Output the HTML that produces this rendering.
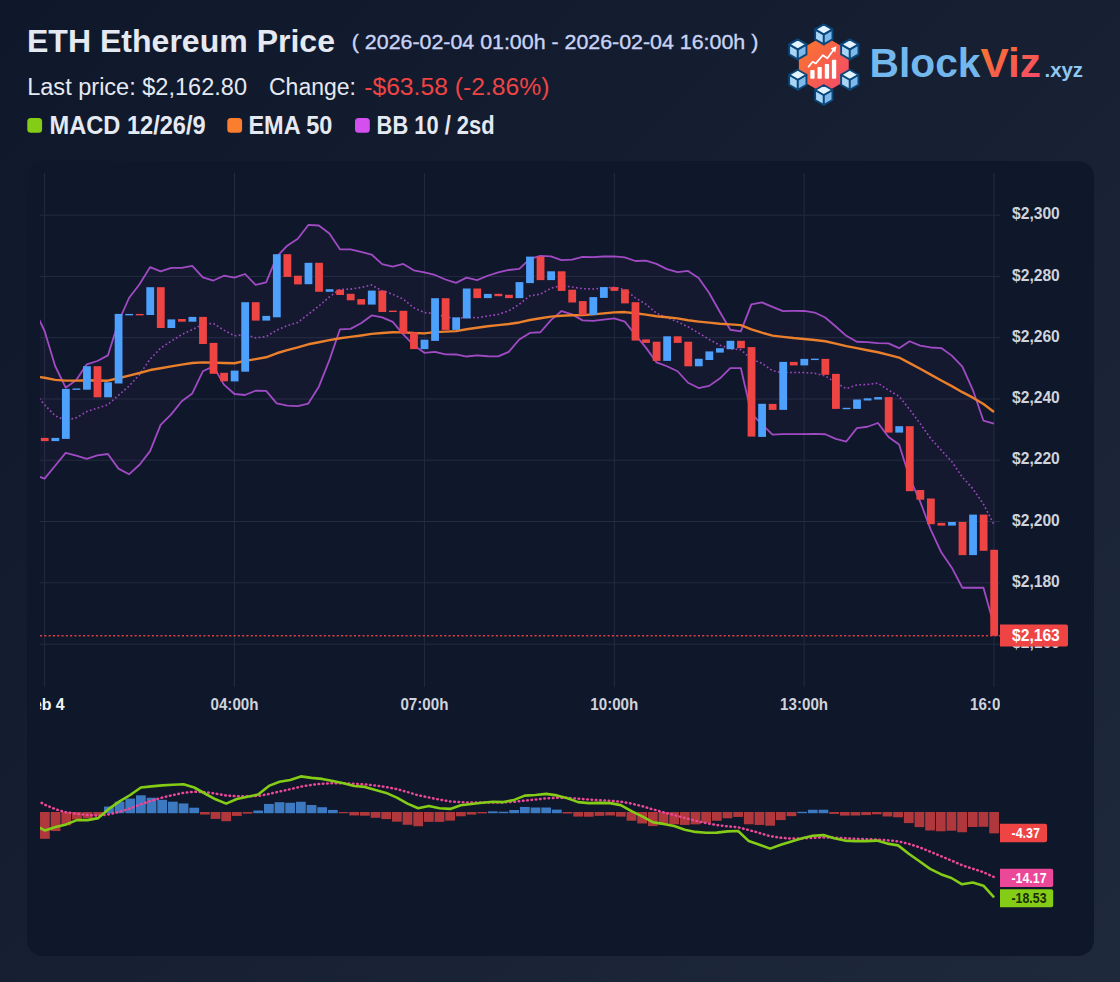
<!DOCTYPE html>
<html lang="en"><head><meta charset="utf-8"><title>ETH Ethereum Price</title>
<style>
html,body{margin:0;padding:0;}
body{width:1120px;height:982px;overflow:hidden;background:linear-gradient(135deg,#0f172a 0%,#1e293b 100%);font-family:"Liberation Sans",sans-serif;position:relative;}
.panel{position:absolute;left:27px;top:160.5px;width:1067px;height:795.5px;background:#0f172a;border-radius:16px;}
svg{position:absolute;left:0;top:0;}
text{font-family:"Liberation Sans",sans-serif;}
</style></head><body>
<div class="panel"></div>
<svg width="1120" height="982" viewBox="0 0 1120 982" style="opacity:0.999">
<defs>
<linearGradient id="hexg" x1="0" y1="0" x2="1" y2="1"><stop offset="0" stop-color="#f97a28"/><stop offset="1" stop-color="#f4456f"/></linearGradient>
<linearGradient id="vizg" x1="0" y1="0" x2="1" y2="1"><stop offset="0" stop-color="#f97a28"/><stop offset="1" stop-color="#f4456f"/></linearGradient>
<clipPath id="cp"><rect x="40" y="165" width="960" height="530"/></clipPath>
<clipPath id="cpx"><rect x="40" y="690" width="960" height="40"/></clipPath>
<clipPath id="cpm"><rect x="40" y="740" width="960" height="200"/></clipPath>
</defs>

<g id="header">
<text x="27" y="52.3" font-size="32" font-weight="700" fill="#e5e9f2" textLength="308" lengthAdjust="spacingAndGlyphs">ETH Ethereum Price</text>
<text x="351.8" y="48.6" font-size="20" font-weight="400" fill="#c9d3f5" stroke="#c9d3f5" stroke-width="0.35" textLength="406.5" lengthAdjust="spacingAndGlyphs">( 2026-02-04 01:00h - 2026-02-04 16:00h )</text>
<text x="27.2" y="95.3" font-size="23" fill="#e5e9f2" textLength="219.8" lengthAdjust="spacingAndGlyphs">Last price: $2,162.80</text>
<text x="269" y="95.3" font-size="23" fill="#e5e9f2" textLength="87" lengthAdjust="spacingAndGlyphs">Change:</text>
<text x="364.2" y="95.3" font-size="23" fill="#ef4444" textLength="185.2" lengthAdjust="spacingAndGlyphs">-$63.58 (-2.86%)</text>
<rect x="27.3" y="118" width="14.8" height="14.8" rx="3.5" fill="#84cc16"/>
<text x="49.5" y="133.9" font-size="25" font-weight="700" fill="#e5e9f2" textLength="156.2" lengthAdjust="spacingAndGlyphs">MACD 12/26/9</text>
<rect x="227.3" y="118" width="14.8" height="14.8" rx="3.5" fill="#f97f2f"/>
<text x="248.4" y="133.9" font-size="25" font-weight="700" fill="#e5e9f2" textLength="84" lengthAdjust="spacingAndGlyphs">EMA 50</text>
<rect x="355" y="118" width="14.8" height="14.8" rx="3.5" fill="#d450ee"/>
<text x="376.6" y="133.9" font-size="25" font-weight="700" fill="#e5e9f2" textLength="117.9" lengthAdjust="spacingAndGlyphs">BB 10 / 2sd</text>
</g>
<g id="logo">
<polygon points="823.8,35.8 798.86,50.2 798.86,79 823.8,93.4 848.74,79 848.74,50.2" fill="url(#hexg)"/>
<polygon points="815.14,29.4 815.14,39.4 823.8,44.4 823.8,34.4" fill="#a9d6f7" stroke="#0b477a" stroke-width="1.9" stroke-linejoin="round"/><polygon points="832.46,29.4 823.8,34.4 823.8,44.4 832.46,39.4" fill="#7db9ea" stroke="#0b477a" stroke-width="1.9" stroke-linejoin="round"/><polygon points="823.8,24.4 815.14,29.4 823.8,34.4 832.46,29.4" fill="#e3f3ff" stroke="#0b477a" stroke-width="1.9" stroke-linejoin="round"/>
<polygon points="815.14,90 815.14,100 823.8,105 823.8,95" fill="#a9d6f7" stroke="#0b477a" stroke-width="1.9" stroke-linejoin="round"/><polygon points="832.46,90 823.8,95 823.8,105 832.46,100" fill="#7db9ea" stroke="#0b477a" stroke-width="1.9" stroke-linejoin="round"/><polygon points="823.8,85 815.14,90 823.8,95 832.46,90" fill="#e3f3ff" stroke="#0b477a" stroke-width="1.9" stroke-linejoin="round"/>
<polygon points="789.14,44.4 789.14,54.4 797.8,59.4 797.8,49.4" fill="#a9d6f7" stroke="#0b477a" stroke-width="1.9" stroke-linejoin="round"/><polygon points="806.46,44.4 797.8,49.4 797.8,59.4 806.46,54.4" fill="#7db9ea" stroke="#0b477a" stroke-width="1.9" stroke-linejoin="round"/><polygon points="797.8,39.4 789.14,44.4 797.8,49.4 806.46,44.4" fill="#e3f3ff" stroke="#0b477a" stroke-width="1.9" stroke-linejoin="round"/>
<polygon points="841.14,44.4 841.14,54.4 849.8,59.4 849.8,49.4" fill="#a9d6f7" stroke="#0b477a" stroke-width="1.9" stroke-linejoin="round"/><polygon points="858.46,44.4 849.8,49.4 849.8,59.4 858.46,54.4" fill="#7db9ea" stroke="#0b477a" stroke-width="1.9" stroke-linejoin="round"/><polygon points="849.8,39.4 841.14,44.4 849.8,49.4 858.46,44.4" fill="#e3f3ff" stroke="#0b477a" stroke-width="1.9" stroke-linejoin="round"/>
<polygon points="789.14,74.8 789.14,84.8 797.8,89.8 797.8,79.8" fill="#a9d6f7" stroke="#0b477a" stroke-width="1.9" stroke-linejoin="round"/><polygon points="806.46,74.8 797.8,79.8 797.8,89.8 806.46,84.8" fill="#7db9ea" stroke="#0b477a" stroke-width="1.9" stroke-linejoin="round"/><polygon points="797.8,69.8 789.14,74.8 797.8,79.8 806.46,74.8" fill="#e3f3ff" stroke="#0b477a" stroke-width="1.9" stroke-linejoin="round"/>
<polygon points="841.14,74.8 841.14,84.8 849.8,89.8 849.8,79.8" fill="#a9d6f7" stroke="#0b477a" stroke-width="1.9" stroke-linejoin="round"/><polygon points="858.46,74.8 849.8,79.8 849.8,89.8 858.46,84.8" fill="#7db9ea" stroke="#0b477a" stroke-width="1.9" stroke-linejoin="round"/><polygon points="849.8,69.8 841.14,74.8 849.8,79.8 858.46,74.8" fill="#e3f3ff" stroke="#0b477a" stroke-width="1.9" stroke-linejoin="round"/>
<rect x="810.3" y="70.0" width="4.3" height="8.8" rx="0.8" fill="#fff"/>
<rect x="817.5" y="66.9" width="4.3" height="11.9" rx="0.8" fill="#fff"/>
<rect x="824.8" y="63.9" width="4.3" height="14.9" rx="0.8" fill="#fff"/>
<rect x="831.9" y="59.8" width="4.3" height="19" rx="0.8" fill="#fff"/>
<polyline points="808.6,66.6 812.6,61.8 815.8,63.4 822.8,55.2 827.4,58.3 834,49.2" fill="none" stroke="#fff" stroke-width="1.7" stroke-linecap="round" stroke-linejoin="round"/>
<polygon points="836.4,46.2 830.6,48.4 835.2,52.4" fill="#fff"/>
<text x="869.5" y="77.4" font-size="40" font-weight="700" fill="#72b8ee" textLength="111" lengthAdjust="spacingAndGlyphs">Block</text>
<text x="980.5" y="77.4" font-size="40" font-weight="700" fill="url(#vizg)" textLength="60.5" lengthAdjust="spacingAndGlyphs">Viz</text>
<text x="1044.5" y="77.4" font-size="20" font-weight="700" fill="#8ec8f2" textLength="38.5" lengthAdjust="spacingAndGlyphs">.xyz</text>
</g>
<g id="grid" stroke="#232c41" stroke-width="1" fill="none">
<line x1="44.6" y1="173" x2="44.6" y2="687"/>
<line x1="234.5" y1="173" x2="234.5" y2="687"/>
<line x1="424.4" y1="173" x2="424.4" y2="687"/>
<line x1="614.3" y1="173" x2="614.3" y2="687"/>
<line x1="804.1" y1="173" x2="804.1" y2="687"/>
<line x1="994.0" y1="173" x2="994.0" y2="687"/>
<line x1="40" y1="215.1" x2="1000" y2="215.1"/>
<line x1="40" y1="276.4" x2="1000" y2="276.4"/>
<line x1="40" y1="337.7" x2="1000" y2="337.7"/>
<line x1="40" y1="399.0" x2="1000" y2="399.0"/>
<line x1="40" y1="460.2" x2="1000" y2="460.2"/>
<line x1="40" y1="521.5" x2="1000" y2="521.5"/>
<line x1="40" y1="582.8" x2="1000" y2="582.8"/>
<line x1="40" y1="644.1" x2="1000" y2="644.1"/>
</g>
<g id="yticks" font-size="16" font-weight="700" fill="#cfd3dc">
<text x="1012" y="219.3" textLength="47.8" lengthAdjust="spacingAndGlyphs">$2,300</text>
<text x="1012" y="280.6" textLength="47.8" lengthAdjust="spacingAndGlyphs">$2,280</text>
<text x="1012" y="341.9" textLength="47.8" lengthAdjust="spacingAndGlyphs">$2,260</text>
<text x="1012" y="403.2" textLength="47.8" lengthAdjust="spacingAndGlyphs">$2,240</text>
<text x="1012" y="464.4" textLength="47.8" lengthAdjust="spacingAndGlyphs">$2,220</text>
<text x="1012" y="525.7" textLength="47.8" lengthAdjust="spacingAndGlyphs">$2,200</text>
<text x="1012" y="587" textLength="47.8" lengthAdjust="spacingAndGlyphs">$2,180</text>
<text x="1012" y="648.3" textLength="47.8" lengthAdjust="spacingAndGlyphs">$2,160</text>
</g>
<g id="xticks" font-size="16" font-weight="700" fill="#cfd3dc" clip-path="url(#cpx)">
<text x="23.2" y="709.9" fill="#f1f3f7" textLength="41.5" lengthAdjust="spacingAndGlyphs">Feb 4</text>
<text x="210.5" y="709.9" textLength="48" lengthAdjust="spacingAndGlyphs">04:00h</text>
<text x="400.4" y="709.9" textLength="48" lengthAdjust="spacingAndGlyphs">07:00h</text>
<text x="590.3" y="709.9" textLength="48" lengthAdjust="spacingAndGlyphs">10:00h</text>
<text x="780.1" y="709.9" textLength="48" lengthAdjust="spacingAndGlyphs">13:00h</text>
<text x="970" y="709.9" textLength="48" lengthAdjust="spacingAndGlyphs">16:00h</text>
</g>
<g id="main" clip-path="url(#cp)">
<path d="M34.05,309 L44.6,331 L55.15,366 L65.7,387.7 L76.25,380 L86.8,364.3 L97.34,361 L107.89,355.4 L118.44,322 L128.99,298 L139.54,284.32 L150.09,267.12 L160.64,271.41 L171.19,267.97 L181.74,267.84 L192.29,265.78 L202.83,277.27 L213.38,280.52 L223.93,275.73 L234.48,277.69 L245.03,274 L255.58,284.95 L266.13,282.36 L276.68,256.8 L287.23,245.64 L297.78,238.68 L308.32,224.95 L318.87,225.49 L329.42,233.58 L339.97,249.28 L350.52,249.32 L361.07,251.84 L371.62,254.51 L382.17,264.16 L392.72,266.66 L403.27,263.99 L413.81,270.27 L424.36,272.32 L434.91,274.99 L445.46,279.5 L456.01,282.88 L466.56,277.62 L477.11,280.17 L487.66,275.76 L498.21,272.47 L508.76,269.98 L519.3,268.94 L529.85,258.88 L540.4,255.94 L550.95,256.4 L561.5,260.14 L572.05,259.58 L582.6,256.99 L593.15,257.04 L603.7,256.49 L614.25,256.39 L624.79,257.35 L635.34,260.98 L645.89,260.71 L656.44,263.91 L666.99,269.12 L677.54,272.17 L688.09,270.92 L698.64,277.97 L709.19,293.01 L719.74,311.81 L730.28,329.76 L740.83,331.31 L751.38,304.36 L761.93,302.37 L772.48,306.85 L783.03,311.09 L793.58,310.96 L804.13,310.98 L814.68,312.56 L825.23,317.55 L835.77,326.48 L846.32,335.81 L856.87,341.75 L867.42,342.05 L877.97,343.22 L888.52,343.38 L899.07,348.14 L909.62,341.22 L920.17,345.57 L930.72,347.48 L941.26,348.1 L951.81,355.61 L962.36,366.64 L972.91,390.07 L983.46,420.67 L994.01,423.51 L994.01,625.53 L983.46,587.73 L972.91,587.59 L962.36,587.76 L951.81,567.67 L941.26,552.32 L930.72,529.6 L920.17,501.63 L909.62,477.78 L899.07,444.4 L888.52,437 L877.97,423.02 L867.42,426.75 L856.87,428.15 L846.32,441.51 L835.77,438.94 L825.23,434.25 L814.68,433.92 L804.13,434.04 L793.58,434.04 L783.03,434.09 L772.48,434.53 L761.93,424.29 L751.38,413.72 L740.83,368.03 L730.28,368.06 L719.74,378.53 L709.19,385.87 L698.64,388.05 L688.09,382.76 L677.54,371.25 L666.99,366.22 L656.44,362.35 L645.89,347.63 L635.34,334.8 L624.79,321.63 L614.25,318.33 L603.7,319.67 L593.15,320.94 L582.6,320.35 L572.05,314.38 L561.5,311.02 L550.95,320.06 L540.4,332.24 L529.85,332.92 L519.3,339.48 L508.76,351.84 L498.21,356.39 L487.66,356.26 L477.11,355.47 L466.56,356.52 L456.01,354.48 L445.46,354.44 L434.91,351.97 L424.36,352.84 L413.81,345.31 L403.27,334.33 L392.72,321.88 L382.17,317.36 L371.62,315.45 L361.07,323.18 L350.52,328.9 L339.97,329.32 L329.42,360.14 L318.87,386.65 L308.32,403.59 L297.78,406.1 L287.23,405.64 L276.68,403.44 L266.13,390.92 L255.58,390.75 L245.03,395.02 L234.48,393.99 L223.93,384.59 L213.38,366.32 L202.83,371.27 L192.29,393.42 L181.74,401.22 L171.19,414.41 L160.64,424.87 L150.09,451.14 L139.54,464.72 L128.99,474.3 L118.44,468.6 L107.89,454 L97.34,455.3 L86.8,458.9 L76.25,455.7 L65.7,452.9 L55.15,465.7 L44.6,478.6 L34.05,475 Z" fill="#b452d8" fill-opacity="0.04" stroke="none"/>
<path d="M34.05,309 L44.6,331 L55.15,366 L65.7,387.7 L76.25,380 L86.8,364.3 L97.34,361 L107.89,355.4 L118.44,322 L128.99,298 L139.54,284.32 L150.09,267.12 L160.64,271.41 L171.19,267.97 L181.74,267.84 L192.29,265.78 L202.83,277.27 L213.38,280.52 L223.93,275.73 L234.48,277.69 L245.03,274 L255.58,284.95 L266.13,282.36 L276.68,256.8 L287.23,245.64 L297.78,238.68 L308.32,224.95 L318.87,225.49 L329.42,233.58 L339.97,249.28 L350.52,249.32 L361.07,251.84 L371.62,254.51 L382.17,264.16 L392.72,266.66 L403.27,263.99 L413.81,270.27 L424.36,272.32 L434.91,274.99 L445.46,279.5 L456.01,282.88 L466.56,277.62 L477.11,280.17 L487.66,275.76 L498.21,272.47 L508.76,269.98 L519.3,268.94 L529.85,258.88 L540.4,255.94 L550.95,256.4 L561.5,260.14 L572.05,259.58 L582.6,256.99 L593.15,257.04 L603.7,256.49 L614.25,256.39 L624.79,257.35 L635.34,260.98 L645.89,260.71 L656.44,263.91 L666.99,269.12 L677.54,272.17 L688.09,270.92 L698.64,277.97 L709.19,293.01 L719.74,311.81 L730.28,329.76 L740.83,331.31 L751.38,304.36 L761.93,302.37 L772.48,306.85 L783.03,311.09 L793.58,310.96 L804.13,310.98 L814.68,312.56 L825.23,317.55 L835.77,326.48 L846.32,335.81 L856.87,341.75 L867.42,342.05 L877.97,343.22 L888.52,343.38 L899.07,348.14 L909.62,341.22 L920.17,345.57 L930.72,347.48 L941.26,348.1 L951.81,355.61 L962.36,366.64 L972.91,390.07 L983.46,420.67 L994.01,423.51" fill="none" stroke="#b452d8" stroke-opacity="0.88" stroke-width="1.8" stroke-linejoin="round"/>
<path d="M34.05,475 L44.6,478.6 L55.15,465.7 L65.7,452.9 L76.25,455.7 L86.8,458.9 L97.34,455.3 L107.89,454 L118.44,468.6 L128.99,474.3 L139.54,464.72 L150.09,451.14 L160.64,424.87 L171.19,414.41 L181.74,401.22 L192.29,393.42 L202.83,371.27 L213.38,366.32 L223.93,384.59 L234.48,393.99 L245.03,395.02 L255.58,390.75 L266.13,390.92 L276.68,403.44 L287.23,405.64 L297.78,406.1 L308.32,403.59 L318.87,386.65 L329.42,360.14 L339.97,329.32 L350.52,328.9 L361.07,323.18 L371.62,315.45 L382.17,317.36 L392.72,321.88 L403.27,334.33 L413.81,345.31 L424.36,352.84 L434.91,351.97 L445.46,354.44 L456.01,354.48 L466.56,356.52 L477.11,355.47 L487.66,356.26 L498.21,356.39 L508.76,351.84 L519.3,339.48 L529.85,332.92 L540.4,332.24 L550.95,320.06 L561.5,311.02 L572.05,314.38 L582.6,320.35 L593.15,320.94 L603.7,319.67 L614.25,318.33 L624.79,321.63 L635.34,334.8 L645.89,347.63 L656.44,362.35 L666.99,366.22 L677.54,371.25 L688.09,382.76 L698.64,388.05 L709.19,385.87 L719.74,378.53 L730.28,368.06 L740.83,368.03 L751.38,413.72 L761.93,424.29 L772.48,434.53 L783.03,434.09 L793.58,434.04 L804.13,434.04 L814.68,433.92 L825.23,434.25 L835.77,438.94 L846.32,441.51 L856.87,428.15 L867.42,426.75 L877.97,423.02 L888.52,437 L899.07,444.4 L909.62,477.78 L920.17,501.63 L930.72,529.6 L941.26,552.32 L951.81,567.67 L962.36,587.76 L972.91,587.59 L983.46,587.73 L994.01,625.53" fill="none" stroke="#b452d8" stroke-opacity="0.88" stroke-width="1.8" stroke-linejoin="round"/>
<path d="M34.05,392 L44.6,404.8 L55.15,415.85 L65.7,420.3 L76.25,417.85 L86.8,411.6 L97.34,408.15 L107.89,404.7 L118.44,395.3 L128.99,386.15 L139.54,374.52 L150.09,359.13 L160.64,348.14 L171.19,341.19 L181.74,334.53 L192.29,329.6 L202.83,324.27 L213.38,323.42 L223.93,330.16 L234.48,335.84 L245.03,334.51 L255.58,337.85 L266.13,336.64 L276.68,330.12 L287.23,325.64 L297.78,322.39 L308.32,314.27 L318.87,306.07 L329.42,296.86 L339.97,289.3 L350.52,289.11 L361.07,287.51 L371.62,284.98 L382.17,290.76 L392.72,294.27 L403.27,299.16 L413.81,307.79 L424.36,312.58 L434.91,313.48 L445.46,316.97 L456.01,318.68 L466.56,317.07 L477.11,317.82 L487.66,316.01 L498.21,314.43 L508.76,310.91 L519.3,304.21 L529.85,295.9 L540.4,294.09 L550.95,288.23 L561.5,285.58 L572.05,286.98 L582.6,288.67 L593.15,288.99 L603.7,288.08 L614.25,287.36 L624.79,289.49 L635.34,297.89 L645.89,304.17 L656.44,313.13 L666.99,317.67 L677.54,321.71 L688.09,326.84 L698.64,333.01 L709.19,339.44 L719.74,345.17 L730.28,348.91 L740.83,349.67 L751.38,359.04 L761.93,363.33 L772.48,370.69 L783.03,372.59 L793.58,372.5 L804.13,372.51 L814.68,373.24 L825.23,375.9 L835.77,382.71 L846.32,388.66 L856.87,384.95 L867.42,384.4 L877.97,383.12 L888.52,390.19 L899.07,396.27 L909.62,409.5 L920.17,423.6 L930.72,438.54 L941.26,450.21 L951.81,461.64 L962.36,477.2 L972.91,488.83 L983.46,504.2 L994.01,524.52" fill="none" stroke="#b452d8" stroke-opacity="0.85" stroke-width="1.6" stroke-dasharray="1.7 2.4" stroke-linejoin="round"/>
<path d="M34.05,376.3 L44.6,377.8 L55.15,379.91 L65.7,380.58 L76.25,380.63 L86.8,380.18 L97.34,380.49 L107.89,380.7 L118.44,378.21 L128.99,375.57 L139.54,373 L150.09,370.04 L160.64,368.3 L171.19,366.43 L181.74,364.67 L192.29,362.98 L202.83,362.33 L213.38,362.59 L223.93,363.01 L234.48,363.23 L245.03,360.92 L255.58,359.15 L266.13,357.26 L276.68,353.26 L287.23,350.21 L297.78,347.43 L308.32,344.3 L318.87,342.24 L329.42,340.17 L339.97,338.3 L350.52,336.83 L361.07,335.47 L371.62,333.92 L382.17,333.05 L392.72,332.29 L403.27,332.33 L413.81,333.01 L424.36,333.38 L434.91,332.11 L445.46,331.66 L456.01,331.1 L466.56,329.24 L477.11,327.71 L487.66,326.3 L498.21,325.09 L508.76,323.94 L519.3,322.45 L529.85,320.02 L540.4,318.26 L550.95,316.58 L561.5,315.72 L572.05,315.28 L582.6,315.1 L593.15,314.37 L603.7,313.36 L614.25,312.39 L624.79,312.07 L635.34,313.31 L645.89,314.61 L656.44,316.25 L666.99,317.19 L677.54,318.4 L688.09,320.24 L698.64,321.57 L709.19,322.68 L719.74,323.7 L730.28,324.41 L740.83,325.15 L751.38,329.44 L761.93,332.67 L772.48,335.64 L783.03,336.82 L793.58,338.02 L804.13,338.97 L814.68,339.94 L825.23,341.27 L835.77,343.63 L846.32,346.08 L856.87,348.17 L867.42,350.22 L877.97,352.22 L888.52,354.95 L899.07,357.55 L909.62,363.11 L920.17,368.7 L930.72,374.66 L941.26,380.49 L951.81,386.13 L962.36,392.19 L972.91,397.66 L983.46,404.03 L994.01,412.05" fill="none" stroke="#ea7f2c" stroke-width="2.4" stroke-linejoin="round"/>
<line x1="40" y1="635.7" x2="1000" y2="635.7" stroke="#ef4444" stroke-width="1.6" stroke-opacity="0.9" stroke-dasharray="2.1 2.2"/>
<g>
<rect x="40.85" y="437.9" width="7.8" height="3.2" fill="#ef4444"/>
<rect x="51.4" y="437.9" width="7.8" height="3.2" fill="#4da0fc"/>
<rect x="61.95" y="388.9" width="7.8" height="50" fill="#4da0fc"/>
<rect x="72.5" y="388.45" width="7.8" height="1.4" fill="#4da0fc"/>
<rect x="83.05" y="366.2" width="7.8" height="23.5" fill="#4da0fc"/>
<rect x="93.59" y="366.2" width="7.8" height="31.1" fill="#ef4444"/>
<rect x="104.14" y="382.3" width="7.8" height="15" fill="#4da0fc"/>
<rect x="114.69" y="313.9" width="7.8" height="69.6" fill="#4da0fc"/>
<rect x="125.24" y="313.95" width="7.8" height="1.4" fill="#4da0fc"/>
<rect x="135.79" y="313.95" width="7.8" height="1.4" fill="#ef4444"/>
<rect x="146.34" y="287.2" width="7.8" height="27.8" fill="#4da0fc"/>
<rect x="156.89" y="287.2" width="7.8" height="40.8" fill="#ef4444"/>
<rect x="167.44" y="319.4" width="7.8" height="8.6" fill="#4da0fc"/>
<rect x="177.99" y="319" width="7.8" height="2.7" fill="#ef4444"/>
<rect x="188.54" y="316.9" width="7.8" height="4.8" fill="#4da0fc"/>
<rect x="199.08" y="316.9" width="7.8" height="27.1" fill="#ef4444"/>
<rect x="209.63" y="342.9" width="7.8" height="30.9" fill="#ef4444"/>
<rect x="220.18" y="372.8" width="7.8" height="8.5" fill="#ef4444"/>
<rect x="230.73" y="370.6" width="7.8" height="10.8" fill="#4da0fc"/>
<rect x="241.28" y="302.2" width="7.8" height="69.5" fill="#4da0fc"/>
<rect x="251.83" y="302.2" width="7.8" height="18.4" fill="#ef4444"/>
<rect x="262.38" y="315.9" width="7.8" height="4.7" fill="#4da0fc"/>
<rect x="272.93" y="254.2" width="7.8" height="63.1" fill="#4da0fc"/>
<rect x="283.48" y="254.2" width="7.8" height="22.7" fill="#ef4444"/>
<rect x="294.03" y="275.7" width="7.8" height="8.7" fill="#ef4444"/>
<rect x="304.57" y="262.8" width="7.8" height="21.4" fill="#4da0fc"/>
<rect x="315.12" y="262.8" width="7.8" height="29" fill="#ef4444"/>
<rect x="325.67" y="289.2" width="7.8" height="2.6" fill="#4da0fc"/>
<rect x="336.22" y="289.7" width="7.8" height="5.3" fill="#ef4444"/>
<rect x="346.77" y="293.8" width="7.8" height="6.5" fill="#ef4444"/>
<rect x="357.32" y="299.1" width="7.8" height="5.5" fill="#ef4444"/>
<rect x="367.87" y="290.6" width="7.8" height="14" fill="#4da0fc"/>
<rect x="378.42" y="290.6" width="7.8" height="21.4" fill="#ef4444"/>
<rect x="388.97" y="310.6" width="7.8" height="1.4" fill="#ef4444"/>
<rect x="399.52" y="310.8" width="7.8" height="22.5" fill="#ef4444"/>
<rect x="410.06" y="332.3" width="7.8" height="16.8" fill="#ef4444"/>
<rect x="420.61" y="339.7" width="7.8" height="9.4" fill="#4da0fc"/>
<rect x="431.16" y="298.2" width="7.8" height="42.7" fill="#4da0fc"/>
<rect x="441.71" y="298.2" width="7.8" height="31.7" fill="#ef4444"/>
<rect x="452.26" y="317.4" width="7.8" height="12.5" fill="#4da0fc"/>
<rect x="462.81" y="288.5" width="7.8" height="30" fill="#4da0fc"/>
<rect x="473.36" y="288.5" width="7.8" height="9.6" fill="#ef4444"/>
<rect x="483.91" y="293.9" width="7.8" height="4.2" fill="#4da0fc"/>
<rect x="494.46" y="293.8" width="7.8" height="2.4" fill="#ef4444"/>
<rect x="505.01" y="294.8" width="7.8" height="3.3" fill="#ef4444"/>
<rect x="515.55" y="282.1" width="7.8" height="16" fill="#4da0fc"/>
<rect x="526.1" y="256.6" width="7.8" height="26.5" fill="#4da0fc"/>
<rect x="536.65" y="256.6" width="7.8" height="23.5" fill="#ef4444"/>
<rect x="547.2" y="271.3" width="7.8" height="8.8" fill="#4da0fc"/>
<rect x="557.75" y="271.3" width="7.8" height="19.6" fill="#ef4444"/>
<rect x="568.3" y="289.7" width="7.8" height="12.8" fill="#ef4444"/>
<rect x="578.85" y="301.1" width="7.8" height="13.9" fill="#ef4444"/>
<rect x="589.4" y="297.1" width="7.8" height="17.8" fill="#4da0fc"/>
<rect x="599.95" y="287.1" width="7.8" height="10.8" fill="#4da0fc"/>
<rect x="610.5" y="287.1" width="7.8" height="3.8" fill="#ef4444"/>
<rect x="621.04" y="289.4" width="7.8" height="14" fill="#ef4444"/>
<rect x="631.59" y="302.2" width="7.8" height="38.4" fill="#ef4444"/>
<rect x="642.14" y="339.4" width="7.8" height="3.5" fill="#ef4444"/>
<rect x="652.69" y="341.7" width="7.8" height="19.2" fill="#ef4444"/>
<rect x="663.24" y="336.3" width="7.8" height="24.6" fill="#4da0fc"/>
<rect x="673.79" y="336.3" width="7.8" height="6.6" fill="#ef4444"/>
<rect x="684.34" y="341.7" width="7.8" height="24.6" fill="#ef4444"/>
<rect x="694.89" y="358.8" width="7.8" height="7.5" fill="#4da0fc"/>
<rect x="705.44" y="351.4" width="7.8" height="8.6" fill="#4da0fc"/>
<rect x="715.99" y="348.2" width="7.8" height="4.4" fill="#4da0fc"/>
<rect x="726.53" y="340.8" width="7.8" height="8.4" fill="#4da0fc"/>
<rect x="737.08" y="340.8" width="7.8" height="7.4" fill="#ef4444"/>
<rect x="747.63" y="347.1" width="7.8" height="89.5" fill="#ef4444"/>
<rect x="758.18" y="403.8" width="7.8" height="33.1" fill="#4da0fc"/>
<rect x="768.73" y="403.9" width="7.8" height="6" fill="#ef4444"/>
<rect x="779.28" y="361.9" width="7.8" height="48" fill="#4da0fc"/>
<rect x="789.83" y="361.9" width="7.8" height="3.5" fill="#ef4444"/>
<rect x="800.38" y="358.9" width="7.8" height="6.5" fill="#4da0fc"/>
<rect x="810.93" y="358.65" width="7.8" height="1.4" fill="#4da0fc"/>
<rect x="821.48" y="358.9" width="7.8" height="15.9" fill="#ef4444"/>
<rect x="832.02" y="373.9" width="7.8" height="35" fill="#ef4444"/>
<rect x="842.57" y="407.8" width="7.8" height="1.4" fill="#4da0fc"/>
<rect x="853.12" y="399.5" width="7.8" height="9.4" fill="#4da0fc"/>
<rect x="863.67" y="398.3" width="7.8" height="2.2" fill="#4da0fc"/>
<rect x="874.22" y="397.1" width="7.8" height="2.4" fill="#4da0fc"/>
<rect x="884.77" y="397.1" width="7.8" height="35.5" fill="#ef4444"/>
<rect x="895.32" y="426.2" width="7.8" height="6.4" fill="#4da0fc"/>
<rect x="905.87" y="426.2" width="7.8" height="65" fill="#ef4444"/>
<rect x="916.42" y="490" width="7.8" height="9.7" fill="#ef4444"/>
<rect x="926.97" y="498.5" width="7.8" height="25.7" fill="#ef4444"/>
<rect x="937.51" y="522.9" width="7.8" height="2.7" fill="#ef4444"/>
<rect x="948.06" y="522" width="7.8" height="3.6" fill="#4da0fc"/>
<rect x="958.61" y="522" width="7.8" height="33.1" fill="#ef4444"/>
<rect x="969.16" y="514.6" width="7.8" height="40.5" fill="#4da0fc"/>
<rect x="979.71" y="514.6" width="7.8" height="36.2" fill="#ef4444"/>
<rect x="990.26" y="549.8" width="7.8" height="86" fill="#ef4444"/>
</g>
</g>
<g id="pricetag">
<path d="M1000,624.5 H1066 a2,2 0 0 1 2,2 V644.5 a2,2 0 0 1 -2,2 H1000 Z" fill="#ef4444"/>
<text x="1012" y="641.2" font-size="16" font-weight="700" fill="#fff" textLength="47.8" lengthAdjust="spacingAndGlyphs">$2,163</text>
</g>
<g id="macd" clip-path="url(#cpm)">
<rect x="29.36" y="812" width="9.75" height="27.8" fill="#ef4444" fill-opacity="0.72"/>
<rect x="40.02" y="812" width="9.75" height="26.8" fill="#ef4444" fill-opacity="0.72"/>
<rect x="50.69" y="812" width="9.75" height="19.04" fill="#ef4444" fill-opacity="0.72"/>
<rect x="61.35" y="812" width="9.75" height="13.31" fill="#ef4444" fill-opacity="0.72"/>
<rect x="72.02" y="812" width="9.75" height="7.45" fill="#ef4444" fill-opacity="0.72"/>
<rect x="82.69" y="812" width="9.75" height="6.2" fill="#ef4444" fill-opacity="0.72"/>
<rect x="93.35" y="812" width="9.75" height="3.6" fill="#ef4444" fill-opacity="0.72"/>
<rect x="104.01" y="806.56" width="9.75" height="6.64" fill="#4da0fc" fill-opacity="0.72"/>
<rect x="114.68" y="801.65" width="9.75" height="11.55" fill="#4da0fc" fill-opacity="0.72"/>
<rect x="125.34" y="798.6" width="9.75" height="14.6" fill="#4da0fc" fill-opacity="0.72"/>
<rect x="136.01" y="795.28" width="9.75" height="17.92" fill="#4da0fc" fill-opacity="0.72"/>
<rect x="146.67" y="797.74" width="9.75" height="15.46" fill="#4da0fc" fill-opacity="0.72"/>
<rect x="157.34" y="799.79" width="9.75" height="13.41" fill="#4da0fc" fill-opacity="0.72"/>
<rect x="168" y="801.68" width="9.75" height="11.52" fill="#4da0fc" fill-opacity="0.72"/>
<rect x="178.67" y="803.42" width="9.75" height="9.78" fill="#4da0fc" fill-opacity="0.72"/>
<rect x="189.34" y="807.7" width="9.75" height="5.5" fill="#4da0fc" fill-opacity="0.72"/>
<rect x="200" y="812" width="9.75" height="2.56" fill="#ef4444" fill-opacity="0.72"/>
<rect x="210.66" y="812" width="9.75" height="6.93" fill="#ef4444" fill-opacity="0.72"/>
<rect x="221.33" y="812" width="9.75" height="9.22" fill="#ef4444" fill-opacity="0.72"/>
<rect x="231.99" y="812" width="9.75" height="3.94" fill="#ef4444" fill-opacity="0.72"/>
<rect x="242.66" y="812" width="9.75" height="1.63" fill="#ef4444" fill-opacity="0.72"/>
<rect x="253.32" y="810.5" width="9.75" height="2.7" fill="#4da0fc" fill-opacity="0.72"/>
<rect x="263.99" y="803.92" width="9.75" height="9.28" fill="#4da0fc" fill-opacity="0.72"/>
<rect x="274.65" y="802.18" width="9.75" height="11.02" fill="#4da0fc" fill-opacity="0.72"/>
<rect x="285.32" y="802.78" width="9.75" height="10.42" fill="#4da0fc" fill-opacity="0.72"/>
<rect x="295.98" y="801.75" width="9.75" height="11.45" fill="#4da0fc" fill-opacity="0.72"/>
<rect x="306.65" y="805" width="9.75" height="8.2" fill="#4da0fc" fill-opacity="0.72"/>
<rect x="317.31" y="807.2" width="9.75" height="6" fill="#4da0fc" fill-opacity="0.72"/>
<rect x="327.98" y="809.92" width="9.75" height="3.28" fill="#4da0fc" fill-opacity="0.72"/>
<rect x="338.64" y="812" width="9.75" height="1.21" fill="#ef4444" fill-opacity="0.72"/>
<rect x="349.31" y="812" width="9.75" height="3.45" fill="#ef4444" fill-opacity="0.72"/>
<rect x="359.97" y="812" width="9.75" height="3.72" fill="#ef4444" fill-opacity="0.72"/>
<rect x="370.64" y="812" width="9.75" height="5.78" fill="#ef4444" fill-opacity="0.72"/>
<rect x="381.3" y="812" width="9.75" height="7.1" fill="#ef4444" fill-opacity="0.72"/>
<rect x="391.97" y="812" width="9.75" height="9.68" fill="#ef4444" fill-opacity="0.72"/>
<rect x="402.63" y="812" width="9.75" height="12.78" fill="#ef4444" fill-opacity="0.72"/>
<rect x="413.3" y="812" width="9.75" height="14.23" fill="#ef4444" fill-opacity="0.72"/>
<rect x="423.96" y="812" width="9.75" height="9.86" fill="#ef4444" fill-opacity="0.72"/>
<rect x="434.63" y="812" width="9.75" height="9.89" fill="#ef4444" fill-opacity="0.72"/>
<rect x="445.29" y="812" width="9.75" height="8.63" fill="#ef4444" fill-opacity="0.72"/>
<rect x="455.96" y="812" width="9.75" height="4.27" fill="#ef4444" fill-opacity="0.72"/>
<rect x="466.62" y="812" width="9.75" height="2.61" fill="#ef4444" fill-opacity="0.72"/>
<rect x="477.29" y="812" width="9.75" height="1.37" fill="#ef4444" fill-opacity="0.72"/>
<rect x="487.95" y="811.34" width="9.75" height="1.86" fill="#4da0fc" fill-opacity="0.72"/>
<rect x="498.62" y="811.71" width="9.75" height="1.49" fill="#4da0fc" fill-opacity="0.72"/>
<rect x="509.28" y="810.01" width="9.75" height="3.19" fill="#4da0fc" fill-opacity="0.72"/>
<rect x="519.95" y="806.97" width="9.75" height="6.23" fill="#4da0fc" fill-opacity="0.72"/>
<rect x="530.62" y="807.49" width="9.75" height="5.71" fill="#4da0fc" fill-opacity="0.72"/>
<rect x="541.28" y="807.51" width="9.75" height="5.69" fill="#4da0fc" fill-opacity="0.72"/>
<rect x="551.94" y="809.61" width="9.75" height="3.59" fill="#4da0fc" fill-opacity="0.72"/>
<rect x="562.61" y="812" width="9.75" height="1.53" fill="#ef4444" fill-opacity="0.72"/>
<rect x="573.27" y="812" width="9.75" height="4.58" fill="#ef4444" fill-opacity="0.72"/>
<rect x="583.94" y="812" width="9.75" height="4.71" fill="#ef4444" fill-opacity="0.72"/>
<rect x="594.6" y="812" width="9.75" height="3.85" fill="#ef4444" fill-opacity="0.72"/>
<rect x="605.27" y="812" width="9.75" height="3.48" fill="#ef4444" fill-opacity="0.72"/>
<rect x="615.93" y="812" width="9.75" height="4.62" fill="#ef4444" fill-opacity="0.72"/>
<rect x="626.6" y="812" width="9.75" height="8.74" fill="#ef4444" fill-opacity="0.72"/>
<rect x="637.26" y="812" width="9.75" height="11.47" fill="#ef4444" fill-opacity="0.72"/>
<rect x="647.93" y="812" width="9.75" height="14.06" fill="#ef4444" fill-opacity="0.72"/>
<rect x="658.59" y="812" width="9.75" height="12.84" fill="#ef4444" fill-opacity="0.72"/>
<rect x="669.26" y="812" width="9.75" height="12.28" fill="#ef4444" fill-opacity="0.72"/>
<rect x="679.92" y="812" width="9.75" height="12.94" fill="#ef4444" fill-opacity="0.72"/>
<rect x="690.59" y="812" width="9.75" height="12.35" fill="#ef4444" fill-opacity="0.72"/>
<rect x="701.25" y="812" width="9.75" height="10.84" fill="#ef4444" fill-opacity="0.72"/>
<rect x="711.92" y="812" width="9.75" height="8.75" fill="#ef4444" fill-opacity="0.72"/>
<rect x="722.58" y="812" width="9.75" height="6.28" fill="#ef4444" fill-opacity="0.72"/>
<rect x="733.25" y="812" width="9.75" height="4.95" fill="#ef4444" fill-opacity="0.72"/>
<rect x="743.91" y="812" width="9.75" height="12.28" fill="#ef4444" fill-opacity="0.72"/>
<rect x="754.58" y="812" width="9.75" height="12.94" fill="#ef4444" fill-opacity="0.72"/>
<rect x="765.24" y="812" width="9.75" height="13.71" fill="#ef4444" fill-opacity="0.72"/>
<rect x="775.91" y="812" width="9.75" height="8.09" fill="#ef4444" fill-opacity="0.72"/>
<rect x="786.57" y="812" width="9.75" height="4.15" fill="#ef4444" fill-opacity="0.72"/>
<rect x="797.24" y="811.8" width="9.75" height="1.4" fill="#4da0fc" fill-opacity="0.72"/>
<rect x="807.9" y="809.76" width="9.75" height="3.44" fill="#4da0fc" fill-opacity="0.72"/>
<rect x="818.57" y="809.73" width="9.75" height="3.47" fill="#4da0fc" fill-opacity="0.72"/>
<rect x="829.23" y="812" width="9.75" height="1.94" fill="#ef4444" fill-opacity="0.72"/>
<rect x="839.9" y="812" width="9.75" height="3.63" fill="#ef4444" fill-opacity="0.72"/>
<rect x="850.56" y="812" width="9.75" height="3.55" fill="#ef4444" fill-opacity="0.72"/>
<rect x="861.23" y="812" width="9.75" height="3.08" fill="#ef4444" fill-opacity="0.72"/>
<rect x="871.89" y="812" width="9.75" height="2.3" fill="#ef4444" fill-opacity="0.72"/>
<rect x="882.56" y="812" width="9.75" height="4.48" fill="#ef4444" fill-opacity="0.72"/>
<rect x="893.22" y="812" width="9.75" height="5.27" fill="#ef4444" fill-opacity="0.72"/>
<rect x="903.89" y="812" width="9.75" height="11.09" fill="#ef4444" fill-opacity="0.72"/>
<rect x="914.55" y="812" width="9.75" height="15.11" fill="#ef4444" fill-opacity="0.72"/>
<rect x="925.22" y="812" width="9.75" height="18.49" fill="#ef4444" fill-opacity="0.72"/>
<rect x="935.88" y="812" width="9.75" height="19.27" fill="#ef4444" fill-opacity="0.72"/>
<rect x="946.55" y="812" width="9.75" height="18.7" fill="#ef4444" fill-opacity="0.72"/>
<rect x="957.21" y="812" width="9.75" height="20.24" fill="#ef4444" fill-opacity="0.72"/>
<rect x="967.88" y="812" width="9.75" height="14.99" fill="#ef4444" fill-opacity="0.72"/>
<rect x="978.54" y="812" width="9.75" height="14.79" fill="#ef4444" fill-opacity="0.72"/>
<rect x="989.21" y="812" width="9.75" height="21.35" fill="#ef4444" fill-opacity="0.72"/>
<path d="M34.23,798.4 L44.9,804.8 L55.56,809.26 L66.23,812.29 L76.89,813.85 L87.56,815.1 L98.22,815.7 L108.89,814.34 L119.56,811.75 L130.22,808.4 L140.88,804.22 L151.55,800.66 L162.22,797.61 L172.88,795.02 L183.54,792.88 L194.21,791.8 L204.88,792.14 L215.54,793.57 L226.2,795.58 L236.87,796.26 L247.53,796.37 L258.2,796 L268.86,793.98 L279.53,791.52 L290.19,789.22 L300.86,786.65 L311.52,784.9 L322.19,783.7 L332.85,783.18 L343.52,783.19 L354.18,783.75 L364.85,784.38 L375.51,785.52 L386.18,787 L396.84,789.12 L407.51,792.02 L418.17,795.27 L428.84,797.44 L439.5,799.61 L450.17,801.47 L460.83,802.23 L471.5,802.59 L482.16,802.63 L492.83,802.46 L503.49,802.39 L514.16,801.89 L524.82,800.63 L535.49,799.51 L546.15,798.39 L556.82,797.79 L567.48,797.87 L578.15,798.72 L588.81,799.59 L599.48,800.25 L610.14,800.82 L620.81,801.68 L631.47,803.56 L642.14,806.13 L652.8,809.34 L663.47,812.26 L674.13,815.02 L684.8,817.96 L695.46,820.75 L706.13,823.16 L716.79,825.05 L727.46,826.32 L738.12,827.25 L748.79,830.02 L759.45,832.96 L770.12,836.09 L780.78,837.81 L791.45,838.55 L802.11,838.5 L812.78,837.94 L823.44,837.37 L834.11,837.56 L844.77,838.17 L855.44,838.75 L866.1,839.22 L876.77,839.5 L887.43,840.32 L898.1,841.33 L908.76,843.81 L919.43,847.29 L930.09,851.61 L940.76,856.13 L951.42,860.5 L962.09,865.26 L972.75,868.71 L983.42,872.11 L994.08,877.15" fill="none" stroke="#ec4899" stroke-width="2.5" stroke-dasharray="0.6 3.7" stroke-linecap="round" stroke-linejoin="round"/>
<path d="M34.23,825 L44.9,830.4 L55.56,827.1 L66.23,824.4 L76.89,820.1 L87.56,820.1 L98.22,818.1 L108.89,808.9 L119.56,801.4 L130.22,795 L140.88,787.5 L151.55,786.4 L162.22,785.4 L172.88,784.7 L183.54,784.3 L194.21,787.5 L204.88,793.5 L215.54,799.3 L226.2,803.6 L236.87,799 L247.53,796.8 L258.2,794.5 L268.86,785.9 L279.53,781.7 L290.19,780 L300.86,776.4 L311.52,777.9 L322.19,778.9 L332.85,781.1 L343.52,783.2 L354.18,786 L364.85,786.9 L375.51,790.1 L386.18,792.9 L396.84,797.6 L407.51,803.6 L418.17,808.3 L428.84,806.1 L439.5,808.3 L450.17,808.9 L460.83,805.3 L471.5,804 L482.16,802.8 L492.83,801.8 L503.49,802.1 L514.16,799.9 L524.82,795.6 L535.49,795 L546.15,793.9 L556.82,795.4 L567.48,798.2 L578.15,802.1 L588.81,803.1 L599.48,802.9 L610.14,803.1 L620.81,805.1 L631.47,811.1 L642.14,816.4 L652.8,822.2 L663.47,823.9 L674.13,826.1 L684.8,829.7 L695.46,831.9 L706.13,832.8 L716.79,832.6 L727.46,831.4 L738.12,831 L748.79,841.1 L759.45,844.7 L770.12,848.6 L780.78,844.7 L791.45,841.5 L802.11,838.3 L812.78,835.7 L823.44,835.1 L834.11,838.3 L844.77,840.6 L855.44,841.1 L866.1,841.1 L876.77,840.6 L887.43,843.6 L898.1,845.4 L908.76,853.7 L919.43,861.2 L930.09,868.9 L940.76,874.2 L951.42,878 L962.09,884.3 L972.75,882.5 L983.42,885.7 L994.08,897.3" fill="none" stroke="#84cc16" stroke-width="2.6" stroke-linejoin="round"/>
</g>
<path d="M1000,823.8 H1045 a2,2 0 0 1 2,2 V840.2 a2,2 0 0 1 -2,2 H1000 Z" fill="#ef4444"/>
<text x="1011.5" y="838" font-size="14.5" font-weight="700" fill="#fff" textLength="28.5" lengthAdjust="spacingAndGlyphs">-4.37</text>
<path d="M1000,868.8 H1051.2 a2,2 0 0 1 2,2 V885.0 a2,2 0 0 1 -2,2 H1000 Z" fill="#ec4899"/>
<text x="1011.5" y="882.9" font-size="14.5" font-weight="700" fill="#fff" textLength="35" lengthAdjust="spacingAndGlyphs">-14.17</text>
<path d="M1000,889.3 H1051.2 a2,2 0 0 1 2,2 V905.2 a2,2 0 0 1 -2,2 H1000 Z" fill="#84cc16"/>
<text x="1011.5" y="903.25" font-size="14.5" font-weight="700" fill="#1a2e05" textLength="35" lengthAdjust="spacingAndGlyphs">-18.53</text>
</svg></body></html>
